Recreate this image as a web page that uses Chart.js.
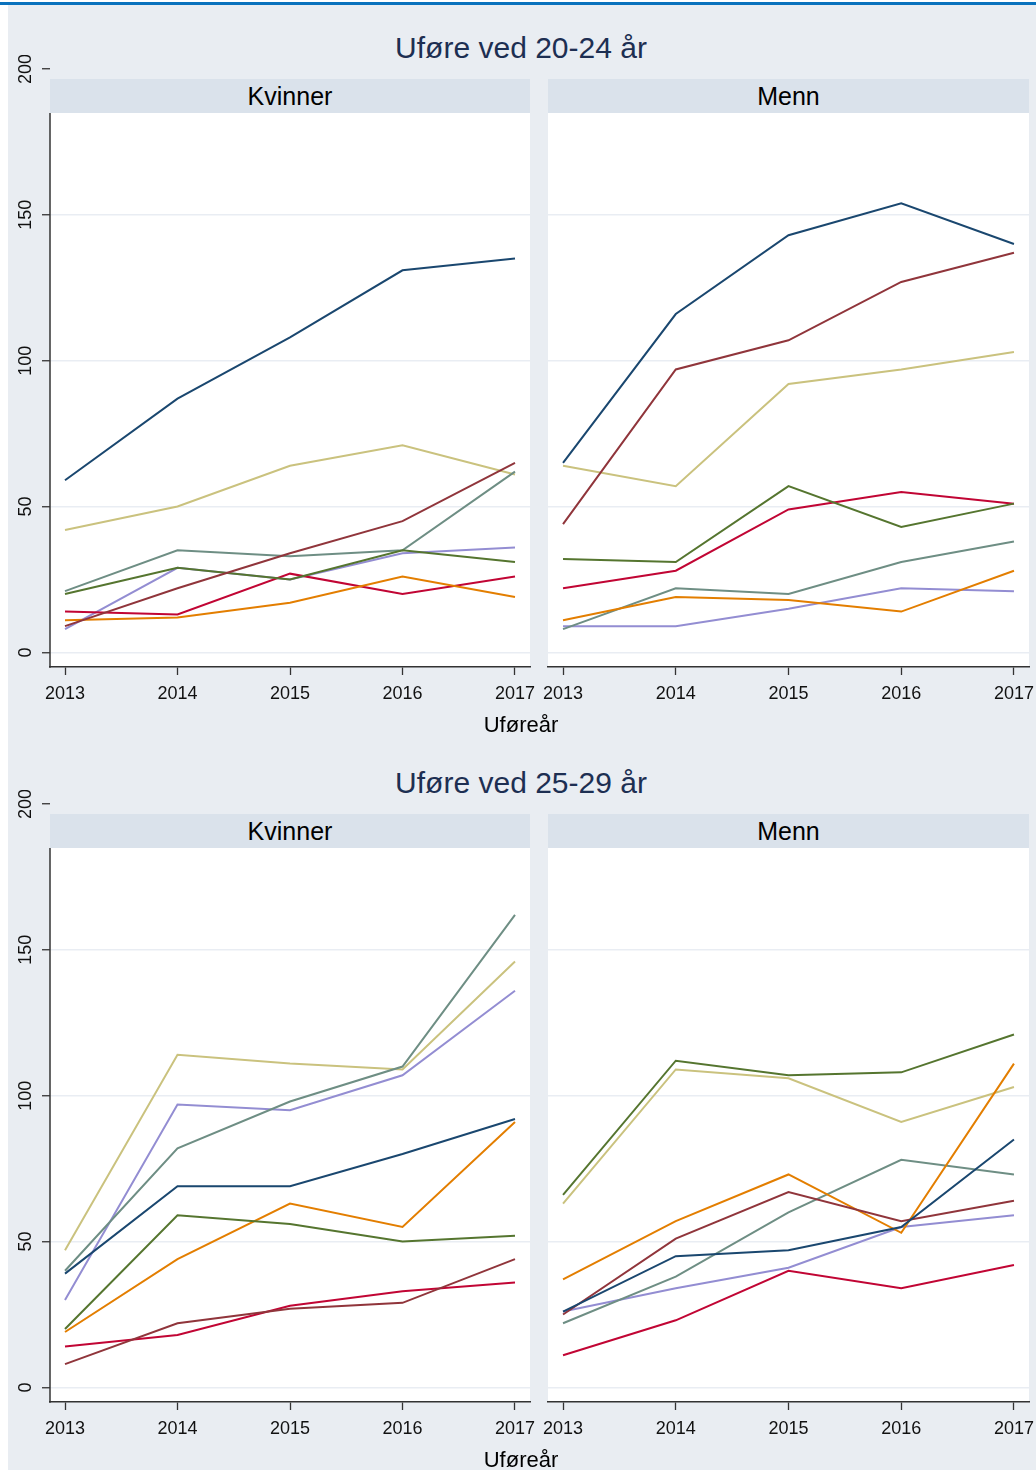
<!DOCTYPE html>
<html>
<head>
<meta charset="utf-8">
<script src="https://cdn.jsdelivr.net/npm/chart.js@4.4.1/dist/chart.umd.min.js"></script>
<style>
html,body{margin:0;padding:0;background:#ffffff;}
body{width:1036px;height:1470px;position:relative;overflow:hidden;font-family:"Liberation Sans",Arial,sans-serif;}
.topline{position:absolute;left:0;top:2px;width:1036px;height:3px;background:#0a72bd;}
.bg{position:absolute;left:8px;top:5px;width:1028px;height:1465px;background:#e9edf2;}
.title{position:absolute;left:321px;width:400px;height:34px;line-height:34px;text-align:center;font-size:30px;color:#1d2f52;white-space:nowrap;}
.strip{position:absolute;height:34px;line-height:34px;background:#dae2eb;text-align:center;font-size:25px;color:#000;}
.plot{position:absolute;background:#ffffff;}
.xtitle{position:absolute;left:421px;width:200px;height:26px;line-height:26px;text-align:center;font-size:22px;color:#000;}
canvas{position:absolute;}
</style>
</head>
<body>
<div class="topline"></div>
<div class="bg"></div>
<script>
// ---------------- DATA ----------------
const years = [2013, 2014, 2015, 2016, 2017];
const yTicks = [0, 50, 100, 150, 200];
const seriesNames = ['Serie 1', 'Serie 2', 'Serie 3', 'Serie 4', 'Serie 5', 'Serie 6', 'Serie 7', 'Serie 8'];
const figureTitles = ['Uføre ved 20-24 år', 'Uføre ved 25-29 år'];
const panelTitles = ['Kvinner', 'Menn'];
const xAxisTitle = 'Uføreår';

// Uføre ved 20-24 år
const kvinner2024 = [
  [59, 87, 108, 131, 135],
  [9, 22, 34, 45, 65],
  [20, 29, 25, 35, 31],
  [11, 12, 17, 26, 19],
  [21, 35, 33, 35, 62],
  [14, 13, 27, 20, 26],
  [8, 29, 25, 34, 36],
  [42, 50, 64, 71, 61]
];
const menn2024 = [
  [65, 116, 143, 154, 140],
  [44, 97, 107, 127, 137],
  [32, 31, 57, 43, 51],
  [11, 19, 18, 14, 28],
  [8, 22, 20, 31, 38],
  [22, 28, 49, 55, 51],
  [9, 9, 15, 22, 21],
  [64, 57, 92, 97, 103]
];
// Uføre ved 25-29 år
const kvinner2529 = [
  [39, 69, 69, 80, 92],
  [8, 22, 27, 29, 44],
  [20, 59, 56, 50, 52],
  [19, 44, 63, 55, 91],
  [40, 82, 98, 110, 162],
  [14, 18, 28, 33, 36],
  [30, 97, 95, 107, 136],
  [47, 114, 111, 109, 146]
];
const menn2529 = [
  [26, 45, 47, 55, 85],
  [25, 51, 67, 57, 64],
  [66, 112, 107, 108, 121],
  [37, 57, 73, 53, 111],
  [22, 38, 60, 78, 73],
  [11, 23, 40, 34, 42],
  [26, 34, 41, 55, 59],
  [63, 109, 106, 91, 103]
];

// ---------------- STYLE ----------------
const seriesColors = ['#1a476f', '#90353b', '#55752f', '#e37e00', '#6e8e84', '#c10534', '#938dd2', '#cac27e'];
const FONT = '"Liberation Sans", Arial, sans-serif';

const axisLinePlugin = {
  id: 'axisLine',
  afterDraw(chart, args, opts) {
    if (!opts.draw) return;
    const ctx = chart.ctx, a = chart.chartArea;
    ctx.save();
    ctx.strokeStyle = '#333333';
    ctx.lineWidth = 1.5;
    ctx.beginPath();
    ctx.moveTo(a.left, opts.top);
    ctx.lineTo(a.left, a.bottom + 0.75);
    ctx.stroke();
    ctx.restore();
  }
};

function addDiv(cls, left, top, width, height, text) {
  const d = document.createElement('div');
  d.className = cls;
  d.style.left = left + 'px';
  d.style.top = top + 'px';
  if (width != null) d.style.width = width + 'px';
  if (height != null) d.style.height = height + 'px';
  if (text != null) d.textContent = text;
  document.body.appendChild(d);
  return d;
}

// left/right: canvas edges; padL/padR: layout padding so chart area fits the panel
function makePanel(values, left, width, padL, padR, offY, showY) {
  const canvasTop = 55 + offY;
  const canvasH = 700;
  const cv = document.createElement('canvas');
  cv.width = width; cv.height = canvasH;
  cv.style.left = left + 'px'; cv.style.top = canvasTop + 'px';
  cv.style.width = width + 'px'; cv.style.height = canvasH + 'px';
  document.body.appendChild(cv);
  const yAxisW = showY ? 50 : 0;
  const half = 15 / 112.5;
  new Chart(cv.getContext('2d'), {
    type: 'line',
    data: {
      datasets: values.map((vals, i) => ({
        label: seriesNames[i],
        data: years.map((yr, j) => ({ x: yr, y: vals[j] })),
        borderColor: seriesColors[i],
        backgroundColor: seriesColors[i],
        borderWidth: 2,
        pointRadius: 0,
        tension: 0,
        fill: false
      }))
    },
    options: {
      responsive: false,
      animation: false,
      events: [],
      layout: { padding: { top: 14, bottom: 48, left: padL, right: padR } },
      plugins: {
        legend: { display: false },
        tooltip: { enabled: false },
        axisLine: { draw: showY, top: 113 - 55 }
      },
      scales: {
        x: {
          type: 'linear',
          min: years[0] - half,
          max: years[years.length - 1] + half,
          afterBuildTicks: s => { s.ticks = years.map(v => ({ value: v })); },
          afterFit: s => { s.height = 40; s.paddingLeft = 0; s.paddingRight = 0; },
          grid: { drawOnChartArea: false, drawTicks: true, tickLength: 8, tickColor: '#333333', tickWidth: 1.3 },
          border: { display: true, color: '#333333', width: 1.5 },
          ticks: {
            autoSkip: false, maxRotation: 0, minRotation: 0, padding: 8,
            color: '#111111', font: { family: FONT, size: 18 },
            callback: v => String(v)
          }
        },
        y: {
          type: 'linear',
          min: -5, max: 200,
          afterBuildTicks: s => { s.ticks = yTicks.map(v => ({ value: v })); },
          afterFit: s => { s.width = yAxisW; s.paddingTop = 0; s.paddingBottom = 0; },
          grid: {
            color: c => (c.tick && c.tick.value === 200) ? 'rgba(0,0,0,0)' : '#e9edf3',
            lineWidth: 1.5,
            drawTicks: showY, tickLength: 8, tickColor: '#333333', tickWidth: 1.3
          },
          border: { display: false },
          ticks: {
            display: showY,
            minRotation: 90, maxRotation: 90, crossAlign: 'center', padding: 1,
            color: '#111111', font: { family: FONT, size: 18 },
            callback: v => String(v)
          }
        }
      }
    },
    plugins: [axisLinePlugin]
  });
}

function makeFigure(offY, title, leftVals, rightVals) {
  addDiv('title', 321, 31 + offY, null, null, title);
  const panels = [[50, 480], [548, 481]];
  panels.forEach((p, k) => {
    addDiv('plot', p[0], 113 + offY, p[1], 667 - 113);
    addDiv('strip', p[0], 79 + offY, p[1], 34, panelTitles[k]);
  });
  // left panel: chart area x 50..530 inside canvas 0..552
  makePanel(leftVals, 0, 552, 0, 22, offY, true);
  // right panel: chart area x 548..1029 inside canvas 526..1036
  makePanel(rightVals, 526, 510, 22, 7, offY, false);
  addDiv('xtitle', 421, 712 + offY, null, null, xAxisTitle);
}

makeFigure(0, figureTitles[0], kvinner2024, menn2024);
makeFigure(735, figureTitles[1], kvinner2529, menn2529);
</script>
</body>
</html>
